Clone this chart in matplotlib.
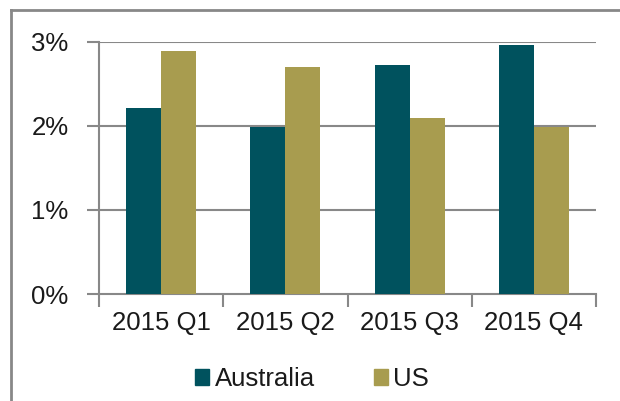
import matplotlib
matplotlib.use("Agg")
import matplotlib.pyplot as plt
from matplotlib.patches import Patch
from matplotlib.lines import Line2D
import numpy as np

categories = ["2015 Q1", "2015 Q2", "2015 Q3", "2015 Q4"]
australia = [2.22, 1.99, 2.73, 2.96]
us = [2.89, 2.70, 2.10, 1.99]
y_ticks = [0, 1, 2, 3]
y_labels = ["0%", "1%", "2%", "3%"]

plt.rcParams['font.family'] = ['Liberation Sans', 'DejaVu Sans']
teal = "#00525E"
olive = "#A89C4F"
grey = "#888888"

fig = plt.figure(figsize=(6.2, 4.01), dpi=100)
ax = fig.add_axes([99/620, 1-294/401, (596-99)/620, (294-42)/401])

x = np.arange(len(categories))
w = 0.282
ax.bar(x - w/2, australia, width=w, color=teal, label="Australia", zorder=3)
ax.bar(x + w/2, us, width=w, color=olive, label="US", zorder=3)

ax.set_xlim(-0.5, len(categories) - 0.5)
ax.set_ylim(0, 3)
ax.set_yticks(y_ticks)
ax.set_yticklabels(y_labels)
for yv in y_ticks[1:]:
    ax.axhline(yv, color=grey, lw=1.5, zorder=1)

ax.set_xticks(np.arange(-0.5, len(categories), 1.0))
ax.set_xticklabels([])
ax.set_xticks(x, minor=True)
ax.set_xticklabels(categories, minor=True)
ax.tick_params(axis='x', which='major', length=9, width=1.5, color=grey, direction='out')
ax.tick_params(axis='x', which='minor', length=0, pad=12, labelsize=18.5, labelcolor='#1a1a1a')
ax.tick_params(axis='y', length=9, width=1.5, color=grey, pad=13, labelsize=18.5, labelcolor='#1a1a1a')

for s in ['top', 'right']:
    ax.spines[s].set_visible(False)
for s in ['left', 'bottom']:
    ax.spines[s].set_color(grey)
    ax.spines[s].set_linewidth(1.5)

handles = [Patch(color=teal), Patch(color=olive)]
fig.legend(handles, ["Australia", "US"], loc='center', bbox_to_anchor=(312/620, 1-379/401),
           ncol=2, frameon=False, fontsize=18.5, handlelength=0.55, handleheight=0.55,
           handletextpad=0.2, columnspacing=2.3, labelcolor='#1a1a1a')

# outer chart border
fig.add_artist(Line2D([11/620, 11/620], [0, 1-10/401], color=grey, lw=2, transform=fig.transFigure))
fig.add_artist(Line2D([11/620, 1], [1-10/401, 1-10/401], color=grey, lw=2, transform=fig.transFigure))

fig.savefig("out.png", dpi=100, facecolor="white")
